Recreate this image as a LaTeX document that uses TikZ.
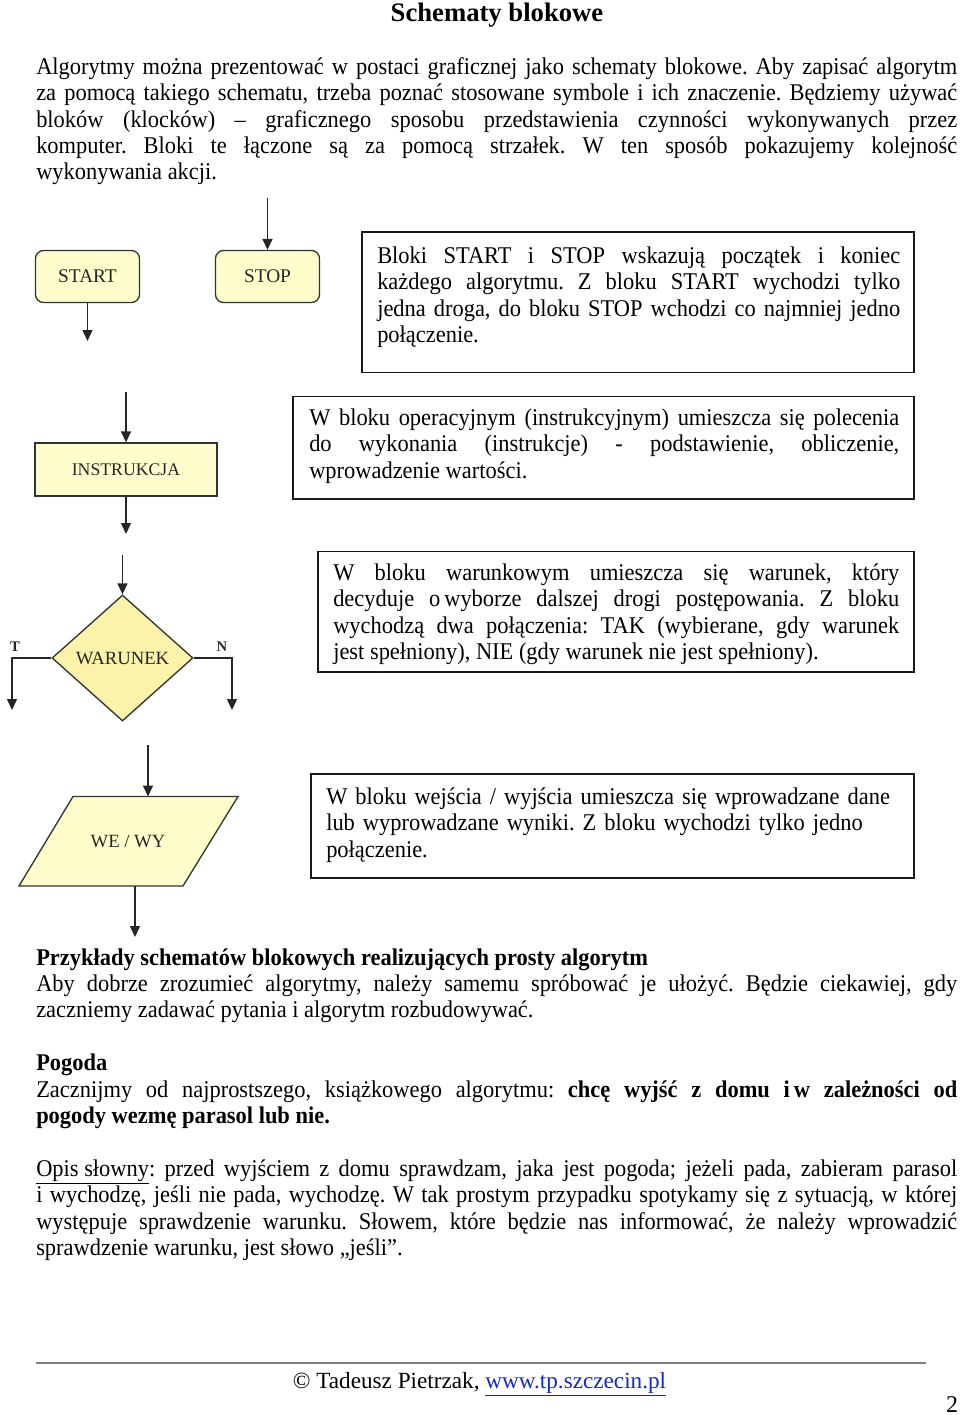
\documentclass[tikz,border=0pt]{standalone}
\usepackage{fontspec}
\setmainfont{Liberation Serif}
\newfontfamily\bodyfam[FakeStretch=0.935,Ligatures=TeX]{Liberation Serif}
\usetikzlibrary{arrows.meta,shapes.geometric}
\definecolor{termfill}{RGB}{255,253,204}
\definecolor{condfill}{RGB}{251,243,170}
\definecolor{urlblue}{RGB}{20,40,200}
\newcommand\bodyfont{\bodyfam\fontsize{18}{19.8}\selectfont\frenchspacing\hyphenpenalty=10000\tolerance=10000}
\newcommand\shapefont{\fontsize{14}{15}\selectfont}
\newcommand\fs{\rule{0pt}{16pt}}
\tikzset{
  arr/.style={draw=black!85, line width=1.1pt, -{Triangle[width=7.5pt,length=8.25pt]}},
  shapebox/.style={draw=black!80, line width=1pt, fill=termfill, font=\shapefont, text=black!85, inner sep=0},
  boxline/.style={draw=black!90, line width=1.2pt},
  para/.style={anchor=north west, inner sep=0, align=justify, font=\bodyfont},
  plain/.style={anchor=base west, inner sep=0, font=\bodyfont},
  lbl/.style={font=\fontsize{11}{12}\selectfont\bfseries, text=black!85, inner sep=0}
}
\begin{document}
\begin{tikzpicture}[x=0.75pt,y=-0.75pt]
\useasboundingbox (0,0) rectangle (960,1415);

% title
\node[anchor=base, inner sep=0, font=\fontsize{20}{22}\selectfont\bfseries] (title) at (497,21) {Schematy blokowe};

% intro paragraph
\node[para, text width=690.75pt] (intro) at (36,52.67) {\fs Algorytmy można prezentować w postaci graficznej jako schematy blokowe. Aby zapisać algorytm\linebreak
za pomocą takiego schematu, trzeba poznać stosowane symbole i ich znaczenie. Będziemy używać\linebreak
bloków (klocków) -- graficznego sposobu przedstawienia czynności wykonywanych przez\linebreak
komputer. Bloki te łączone są za pomocą strzałek. W ten sposób pokazujemy kolejność\linebreak
wykonywania akcji.};

% START / STOP
\node[shapebox, font=\fontsize{14.5}{15}\selectfont, rounded corners=6pt, minimum width=104*0.75pt, minimum height=52*0.75pt] (start) at (87.5,276.5) {START};
\node[shapebox, font=\fontsize{14.5}{15}\selectfont, rounded corners=6pt, minimum width=104*0.75pt, minimum height=52*0.75pt] (stop) at (267.5,276.5) {STOP};
\coordinate (startout) at (87.5,341);
\coordinate (stopin) at (267.5,198);
\draw[arr] (start.south) -- (startout);
\draw[arr] (stopin) -- (stop.north);

\draw[boxline] (362,232) rectangle (914,372.5);
\node[para, text width=392.25pt] (t1) at (377,241.67) {\fs Bloki START i STOP wskazują początek i koniec\linebreak
każdego algorytmu. Z bloku START wychodzi tylko\linebreak
jedna droga, do bloku STOP wchodzi co najmniej jedno\linebreak
połączenie.};

% INSTRUKCJA
\node[shapebox, font=\fontsize{13.3}{15}\selectfont, minimum width=182*0.75pt, minimum height=53*0.75pt] (instr) at (126,469.5) {INSTRUKCJA};
\coordinate (instrin) at (126,392);
\coordinate (instrout) at (126,534);
\draw[arr] (instrin) -- (instr.north);
\draw[arr] (instr.south) -- (instrout);

\draw[boxline] (293,396.5) rectangle (914,499);
\node[para, text width=442.5pt] (t2) at (309,403.67) {\fs W bloku operacyjnym (instrukcyjnym) umieszcza się polecenia\linebreak
do wykonania (instrukcje) - podstawienie, obliczenie,\linebreak
wprowadzenie wartości.};

% WARUNEK
\node[shapebox, shape=diamond, fill=condfill, minimum width=141*0.75pt, minimum height=126*0.75pt] (war) at (122.5,658) {WARUNEK};
\coordinate (warin) at (122.5,555);
\coordinate (tout) at (12,710);
\coordinate (nout) at (232,710);
\draw[arr] (warin) -- (war.north);
\draw[arr] (war.west) -| (tout);
\draw[arr] (war.east) -| (nout);
\node[lbl] (tl) at (15,647) {T};
\node[lbl] (nl) at (222,647) {N};

\draw[boxline] (318,551.5) rectangle (914,672);
\node[para, text width=424.5pt] (t3) at (333,558.67) {\fs W bloku warunkowym umieszcza się warunek, który\linebreak
decyduje o\,wyborze dalszej drogi postępowania. Z bloku\linebreak
wychodzą dwa połączenia: TAK (wybierane, gdy warunek\linebreak
jest spełniony), NIE (gdy warunek nie jest spełniony).};

% WE / WY
\coordinate (p1) at (73,796.5);
\coordinate (p2) at (238,796.5);
\coordinate (p3) at (183,886);
\coordinate (p4) at (19,886);
\draw[draw=black!80, line width=1pt, fill=termfill] (p1) -- (p2) -- (p3) -- (p4) -- cycle;
\node[font=\shapefont, text=black!85, inner sep=0] (we) at (128,841) {WE / WY};
\coordinate (wein) at (148,745);
\coordinate (wetop) at (148,796.5);
\coordinate (webot) at (135,886);
\coordinate (weout) at (135,937);
\draw[arr] (wein) -- (wetop);
\draw[arr] (webot) -- (weout);

\draw[boxline] (311,774) rectangle (914,878);
\node[para, align=left, text width=429.75pt] (t4) at (326,782.67) {\fs W bloku wejścia / wyjścia umieszcza się wprowadzane dane\\
lub wyprowadzane wyniki. Z bloku wychodzi tylko jedno\\
połączenie.};

% Examples
\node[plain, font=\bodyfont\bfseries] (h1) at (36,965) {Przykłady schematów blokowych realizujących prosty algorytm};
\node[para, text width=690.75pt] (p1t) at (36,969.67) {\fs Aby dobrze zrozumieć algorytmy, należy samemu spróbować je ułożyć. Będzie ciekawiej, gdy\linebreak
zaczniemy zadawać pytania i algorytm rozbudowywać.};

\node[plain, font=\bodyfont\bfseries] (h2) at (36,1070) {Pogoda};
\node[para, text width=690.75pt] (p2t) at (36,1075.67) {\fs Zacznijmy od najprostszego, książkowego algorytmu: \textbf{chcę wyjść z domu i\,w zależności od}\linebreak
\textbf{pogody wezmę parasol lub nie.}};

\node[para, text width=690.75pt] (p3t) at (36,1154.67) {\fs \underline{Opis słowny}: przed wyjściem z domu sprawdzam, jaka jest pogoda; jeżeli pada, zabieram parasol\linebreak
i wychodzę, jeśli nie pada, wychodzę. W tak prostym przypadku spotykamy się z sytuacją, w której\linebreak
występuje sprawdzenie warunku. Słowem, które będzie nas informować, że należy wprowadzić\linebreak
sprawdzenie warunku, jest słowo „jeśli”.};

% footer
\coordinate (rl) at (36,1363);
\coordinate (rr) at (926,1363);
\draw[draw=black!50, line width=1.5pt] (rl) -- (rr);
\node[anchor=base, inner sep=0, font=\fontsize{17.4}{19}\selectfont] (foot) at (479.5,1388) {© Tadeusz Pietrzak, \textcolor{urlblue}{\underline{www.tp.szczecin.pl}}};
\node[anchor=base, inner sep=0, font=\fontsize{18}{19.8}\selectfont] (pnum) at (952,1412) {2};
\end{tikzpicture}
\end{document}
